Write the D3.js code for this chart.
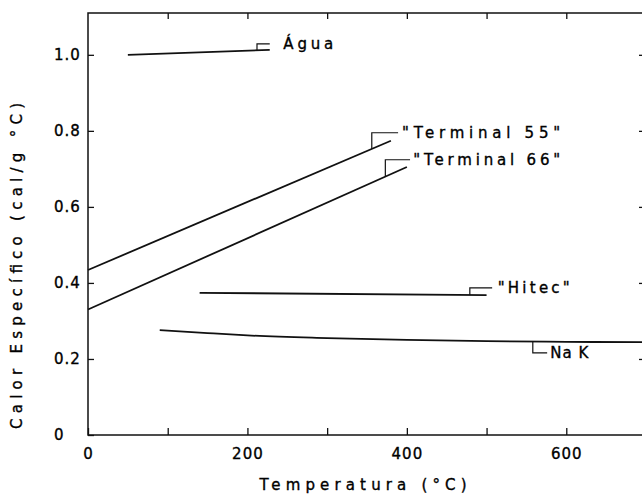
<!DOCTYPE html>
<html>
<head>
<meta charset="utf-8">
<script src="https://cdn.jsdelivr.net/npm/d3@7"></script>
<style>
  body { margin: 0; background: #fff; }
  text { font-family: "DejaVu Sans", sans-serif; fill: #000; stroke: #000; stroke-width: 0.35px; }
</style>
</head>
<body>
<svg></svg>
<script>
// series (temperature in °C, specific heat in cal/g °C)
const aguaT = [50, 228];
const aguaV = [1.0, 1.013];
const t55T = [0, 380];
const t55V = [0.434, 0.774];
const t66T = [0, 400];
const t66V = [0.33, 0.705];
const hitecT = [140, 500];
const hitecV = [0.374, 0.368];
const nakT = [90, 150, 200, 300, 400, 500, 600, 700];
const nakV = [0.276, 0.268, 0.262, 0.255, 0.25, 0.247, 0.245, 0.244];

const xTicks = [0, 100, 200, 300, 400, 500, 600, 700];
const xLabels = ["0", "", "200", "", "400", "", "600", ""];
const yTicks = [0, 0.2, 0.4, 0.6, 0.8, 1.0];
const yLabels = ["0", "0.2", "0.4", "0.6", "0.8", "1.0"];

// annotation labels: text, bracket start T, bracket end T, bracket far value, text T
const labelNames = ["Água", "\"Terminal 55\"", "\"Terminal 66\"", "\"Hitec\"", "Na K"];
const labelSeries = [0, 1, 2, 3, 4];
const labelT0 = [212, 356, 373, 479, 558];
const labelT1 = [228, 389, 404, 507, 576];
const labelV = [1.029, 0.795, 0.724, 0.387, 0.216];
const labelTextT = [245, 394, 408, 514, 580];
const labelWidth = [50, 158, 147, 72, 38];

const width = 642, height = 500;
const svg = d3.select("svg").attr("width", width).attr("height", height);

const x = d3.scaleLinear().domain([0, 700]).range([88, 646]);
const y = d3.scaleLinear().domain([0, 1.11]).range([435, 13]);

const series = [
  aguaT.map((t, i) => ({t: t, v: aguaV[i]})),
  t55T.map((t, i) => ({t: t, v: t55V[i]})),
  t66T.map((t, i) => ({t: t, v: t66V[i]})),
  hitecT.map((t, i) => ({t: t, v: hitecV[i]})),
  nakT.map((t, i) => ({t: t, v: nakV[i]}))
];

// frame
svg.append("rect")
  .attr("x", x(0)).attr("y", y(1.11))
  .attr("width", x(700) - x(0)).attr("height", y(0) - y(1.11))
  .attr("fill", "none").attr("stroke", "#111").attr("stroke-width", 1.5);

// axes, ticks inward
const fmtX = (d, i) => xLabels[i];
const gx = svg.append("g").attr("transform", `translate(0,${y(0)})`)
  .call(d3.axisBottom(x).tickValues(xTicks).tickSize(-7).tickFormat(fmtX));
gx.selectAll("text").attr("y", 13).style("font-size", "15px").style("letter-spacing", "1px");
svg.append("g").attr("transform", `translate(0,${y(1.11)})`)
  .call(d3.axisTop(x).tickValues(xTicks.slice(1, 7)).tickSize(-6).tickFormat(""));

const gy = svg.append("g").attr("transform", `translate(${x(0)},0)`)
  .call(d3.axisLeft(y).tickValues(yTicks).tickSize(-6).tickFormat((d, i) => yLabels[i]));
gy.selectAll("text").attr("x", -34).attr("text-anchor", "start")
  .style("font-size", "15px").style("letter-spacing", "1px");
svg.append("g").attr("transform", `translate(${x(700)},0)`)
  .call(d3.axisRight(y).tickValues(yTicks.slice(1)).tickSize(-7).tickFormat(""));

svg.selectAll(".domain").remove();
svg.selectAll(".tick line").attr("stroke", "#111").attr("stroke-width", 1.3);

// curves
const line = d3.line().x(d => x(d.t)).y(d => y(d.v)).curve(d3.curveMonotoneX);
svg.selectAll(".curve").data(series).join("path")
  .attr("class", "curve")
  .attr("d", line)
  .attr("fill", "none").attr("stroke", "#111").attr("stroke-width", 1.8);

// brackets and labels
const valueAt = (s, t) => {
  const pts = series[s];
  for (let i = 1; i < pts.length; i++) {
    if (t <= pts[i].t) {
      const a = pts[i - 1], b = pts[i];
      return a.v + (b.v - a.v) * (t - a.t) / (b.t - a.t);
    }
  }
  return pts[pts.length - 1].v;
};

labelNames.forEach((name, i) => {
  const s = labelSeries[i];
  svg.append("path")
    .attr("d", `M${x(labelT0[i])},${y(valueAt(s, labelT0[i]))}V${y(labelV[i])}H${x(labelT1[i])}`)
    .attr("fill", "none").attr("stroke", "#111").attr("stroke-width", 1.2);
  svg.append("text")
    .attr("x", x(labelTextT[i]))
    .attr("y", y(labelV[i]))
    .attr("dy", "0.35em")
    .attr("textLength", labelWidth[i])
    .attr("lengthAdjust", "spacing")
    .style("font-size", "15px")
    .text(name);
});

// axis titles
svg.append("text")
  .attr("x", 363).attr("y", 485).attr("dy", "0.35em")
  .attr("text-anchor", "middle")
  .attr("textLength", 207).attr("lengthAdjust", "spacing")
  .style("font-size", "15px")
  .text("Temperatura  (°C)");

svg.append("text")
  .attr("transform", "translate(17,266) rotate(-90)")
  .attr("dy", "0.35em")
  .attr("text-anchor", "middle")
  .attr("textLength", 326).attr("lengthAdjust", "spacing")
  .style("font-size", "15px")
  .text("Calor  Específico  (cal/g °C)");
</script>
</body>
</html>
